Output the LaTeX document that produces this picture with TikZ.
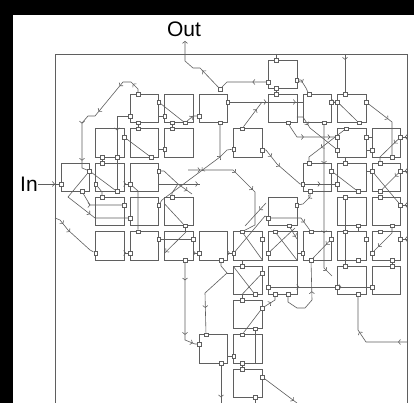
\documentclass[tikz,border=0pt]{standalone}
\usepackage{fontspec}
\newfontfamily\lblfont{Liberation Sans}
\usetikzlibrary{arrows.meta, decorations.markings}
\definecolor{linec}{RGB}{95,95,95}
\pgfdeclarelayer{back}
\pgfdeclarelayer{wires}
\pgfsetlayers{back,wires,main}

\begin{document}
\begin{tikzpicture}[x=1pt, y=-1pt,
    blk/.style={draw=linec, line width=0.7pt, minimum size=28.5pt, inner sep=0pt},
    port/.style={draw=linec, fill=white, line width=0.5pt, minimum size=3.6pt, inner sep=0pt},
    wire/.style={draw=linec, line width=0.6pt},
    tip/.style={-{Straight Barb[length=2pt, width=5pt]}},
    mk/.style={postaction={decorate, decoration={markings,
        mark=at position #1 with {\arrow{Straight Barb[length=2pt, width=5pt]}}}}},
    lbl/.style={font=\lblfont\fontsize{21}{21}\selectfont, inner sep=0pt}]

    \begin{pgfonlayer}{back}
        \fill[black] (0,0) rectangle (414,403);
        \fill[white] (13,15) rectangle (414,403);
    \end{pgfonlayer}
    \useasboundingbox (0,0) rectangle (414,403);

    % labels
    \node[lbl] (out) at (184,29) {Out};
    \node[lbl] (in) at (29,184) {In};
    \coordinate (outtip) at (185,41);

    % logic blocks, column/row
    \foreach \c/\r in {6/0, 2/1,3/1,4/1,6/1,7/1,8/1, 1/2,2/2,3/2,5/2,8/2,9/2,
        0/3,1/3,2/3,7/3,8/3,9/3, 1/4,2/4,3/4,6/4,8/4,9/4,
        1/5,2/5,3/5,4/5,5/5,6/5,7/5,8/5,9/5, 5/6,6/6,8/6,9/6, 5/7, 4/8,5/8, 5/9}
        \node[blk] (b\c\r) at ({75.25+34.56*\c}, {74.25+34.33*\r}) {};

    % pins
    \foreach \n/\x/\y in {o1/268.4/82, o2/276/60, o3/276/88.5, o4/276/94.4, o5/296.9/80,
        o6/309/94.4, o7/345/94.4, o8/227.7/102, o9/242/128.7, o10/331.4/102,
        o11/337.5/102, o12/359/122.9, o13/366/102, o14/392/157.2, o15/400.5/137,
        o16/380/163, o17/324/122.9, o18/288/122.9, o19/337.5/137, o20/337.5/150,
        o21/346/128.7, o22/309/163, o23/366/137, o24/372/150, o25/220/89,
        p1/138/94.4, p2/89.5/171, p3/124/137, p4/151/157.2, p5/130.1/116,
        p6/117/191.5, p7/117/157.2, p8/102/157.2, p9/102/163, p10/138/122.9,
        p11/138/128.7, p12/158.6/102, p13/185/122.9, p14/199.2/116, p15/172/122.9,
        p16/172/128.7, p17/164.7/149, p18/220/122.9, p19/233.8/149, p20/158.6/205,
        p21/158.6/171, p22/172/197.4, p23/185/225.9, p24/193.2/239, p26/199.2/253,
        p27/158.6/239, p28/185/260.2, p29/199.2/344, p30/221/260.2, p31/206/334.7,
        p32/221/363.2, p33/233.8/356, p34/255/328.9, p35/242/363.2, p36/242/369,
        p37/262.3/377, p38/255/397.5, p39/262.3/308, p40/242/334.7, p41/275/294.5,
        p42/255/294.5, p43/242/300.4, p44/268.4/287, p45/337.5/287, p46/372/287,
        p47/288/294.5, p48/311/260.2, p49/331.4/239, p50/311/231.7, p51/268.4/218,
        p52/289/225.9, p53/302.9/253, p54/310/191.5, p55/296.9/205, p56/302.9/184,
        p57/337.5/184, p58/262.3/150, p59/331.4/171, p60/358/191.5, p61/345/163,
        p62/345/197.4, p63/372/171, p64/400.5/171, p65/400.5/205, p66/380/191.5,
        p67/392/225.9, p68/372/253, p69/345/266, p70/392/260.2, p71/392/266,
        p72/358/260.2, p73/358/294.5, p74/366/239, p75/400.5/239, p76/61/184,
        p77/95.6/253, p78/130.1/218, p79/82/191.5, p80/124/205, p81/95.6/184,
        p82/102/197.4, p83/130.1/184, p84/138/231.7, p85/130.1/253, p86/233.8/253,
        p87/242/231.7, p88/262.3/239, p89/275/231.7, p90/268.4/253, p91/242/266,
        p92/262.3/273, p93/380/231.7, p94/358/225.9, p95/345/231.7, p96/380/197.4,
        p97/164.7/116}
        \node[port] (\n) at (\x,\y) {};

    \begin{pgfonlayer}{wires}
    % frame
    \draw[wire] (55,403) -- (55,54) -- (407,54) -- (407,403);

    % top area
    \draw[wire, mk=0.3] (o1) -- (227,82) -- (o25);
    \draw[wire, tip, mk=0.35] (o25) -- (200,68) -- (193,68) -- (185,61) -- (outtip);
    \draw[wire] (276,54) -- (o2);
    \draw[wire] (o3) -- (o4);
    \draw[wire, mk=0.3] (o5) -- (301,80) -- (306,88) -- (o6);
    \draw[wire, mk=0.15] (345,54) -- (o7);
    \draw[wire, mk=0.5, mk=0.9] (o8) -- (303,102);
    \draw[wire, mk=0.7] (o9) -- (262,102);
    \draw[wire, mk=0.5] (o10) -- (o11);
    \draw[wire] (o11) -- (o12);
    \draw[wire, mk=0.4] (o13) -- (392,122) -- (o14);
    \draw[wire, mk=0.2] (o15) -- (380,157) -- (o16);
    \draw[wire, mk=0.25, mk=0.7, mk=0.95] (o17) -- (324,268) -- (332,276);
    \draw[wire, mk=0.4, mk=0.9] (o18) -- (291,128) -- (297,137) -- (o19);
    \draw[wire, mk=0.3] (296.9,117) -- (303,117) -- (310,128) -- (o20);
    \draw[wire, mk=0.6] (o21) -- (309,157) -- (o22);
    \draw[wire] (o23) -- (372,137);
    \draw[wire] (366,150) -- (o24);

    % left area
    \draw[wire, mk=0.08, mk=0.2, mk=0.45, mk=0.62, mk=0.9] (p1) -- (138,89) -- (131,82)
        -- (123,82) -- (95,116) -- (88,116) -- (82,123) -- (82,168) -- (p2);
    \draw[wire] (p3) -- (p4);
    \draw[wire, mk=0.3] (p5) -- (117,116) -- (p6);
    \draw[wire] (p8) -- (p9);
    \draw[wire] (p10) -- (p11);
    \draw[wire] (p12) -- (p13);
    \draw[wire, mk=0.6] (p13) -- (193,116) -- (p14);
    \draw[wire] (158.6,116) -- (p97);
    \draw[wire] (p15) -- (p16);
    \draw[wire] (158.6,149) -- (p17);
    \draw[wire, mk=0.7] (p18) -- (220,157) -- (227,150) -- (p19);
    \draw[wire, mk=0.3] (220,157) -- (162,200) -- (p20);
    \draw[wire, mk=0.85] (p21) -- (164,171) -- (178,184) -- (192,194);
    \draw[wire, mk=0.95] (158.6,184) -- (200,184);
    \draw[wire, mk=0.1, mk=0.4, mk=0.6] (188,170) -- (233,170) -- (255,192) -- (255,225) -- (p87);
    \draw[wire] (p22) -- (172,193) -- (178,184);
    \draw[wire] (164.7,204) -- (p23);
    \draw[wire] (p23) -- (185,231.7);
    \draw[wire, mk=0.95] (186,232) -- (164.7,253);
    \draw[wire, mk=0.6] (193.2,253) -- (p26);
    \draw[wire] (p27) -- (p24);
    \draw[wire, mk=0.2, mk=0.8, mk=0.95] (p28) -- (185,340) -- (195,344) -- (p29);
    \draw[wire, mk=0.7] (p30) -- (221,266) -- (227,273) -- (205,293) -- (p31);
    \draw[wire] (227,273) -- (233.8,273);
    \draw[wire, mk=0.85] (p32) -- (221,403);
    \draw[wire] (227.7,356) -- (p33);
    \draw[wire] (p34) -- (255,363.2);
    \draw[wire] (p35) -- (p36);
    \draw[wire, mk=0.9] (p37) -- (297,403);
    \draw[wire] (p38) -- (255,403);
    \draw[wire] (p39) -- (p40);
    \draw[wire, mk=0.5] (p39) -- (275,300) -- (p41);
    \draw[wire] (233.8,267) -- (p42);
    \draw[wire] (242,294.5) -- (p92);
    \draw[wire] (p43) -- (242,294.5);
    \draw[wire, mk=0.3, mk=0.7] (p44) -- (p45) -- (p46);
    \draw[wire, mk=0.6] (p47) -- (288,302) -- (297,308) -- (305,308) -- (312,300) -- (p48);
    \draw[wire, mk=0.2] (p49) -- (p48);
    \draw[wire, mk=0.8] (p51) -- (301,218) -- (p50);
    \draw[wire, mk=0.8] (p52) -- (297,239);
    \draw[wire] (296.9,253) -- (p53);
    \draw[wire, mk=0.3] (p54) -- (310,197) -- (303,204) -- (p55);
    \draw[wire, mk=0.5] (p56) -- (p57);
    \draw[wire, mk=0.2, mk=0.45] (p58) -- (266,150) -- (277,164) -- (300,184) -- (p56);
    \draw[wire] (p59) -- (p60);
    \draw[wire] (345,157.2) -- (p61);
    \draw[wire] (366,171) -- (p63);
    \draw[wire] (p63) -- (p65);
    \draw[wire, mk=0.2] (p64) -- (p66);
    \draw[wire] (p62) -- (p95) -- (p69);
    \draw[wire, mk=0.8] (p67) -- (392,233) -- (p68);
    \draw[wire] (p70) -- (p71);
    \draw[wire] (p94) -- (358,231.7);
    \draw[wire, mk=0.1, mk=0.6] (407,342) -- (366,342) -- (358,330) -- (p73);
    \draw[wire, mk=0.5] (407,137) -- (o15);
    \draw[wire, mk=0.5] (407,171) -- (p64);
    \draw[wire, mk=0.5] (407,205) -- (p65);
    \draw[wire, mk=0.5] (407,239) -- (p75);
    \draw[wire, mk=0.8] (in.east) -- (p76);
    \draw[wire, mk=0.2, mk=0.4] (55,218) -- (60,220) -- (68,230) -- (90,250) -- (p77);
    \draw[wire, mk=0.6] (p2) -- (68,197) -- (95,218) -- (p78);
    \draw[wire, mk=0.3] (p79) -- (90,205) -- (p80);
    \draw[wire] (p2) -- (p6);
    \draw[wire] (p81) -- (102,192) -- (p82);
    \draw[wire, mk=0.5] (124,184) -- (p83);
    \draw[wire] (p83) -- (138,191) -- (p84);
    \draw[wire, mk=0.5] (124,253) -- (p85);
    \draw[wire, mk=0.5] (227.7,253) -- (p86);
    \draw[wire] (p86) -- (265,216) -- (p51);
    \draw[wire] (p87) -- (262.3,260);
    \draw[wire] (p89) -- (296.9,260);
    \draw[wire] (p90) -- (295,228);
    \draw[wire] (242,260.2) -- (p91);
    \draw[wire, mk=0.3] (266,203) -- (245,226);
    \end{pgfonlayer}
\end{tikzpicture}
\end{document}
